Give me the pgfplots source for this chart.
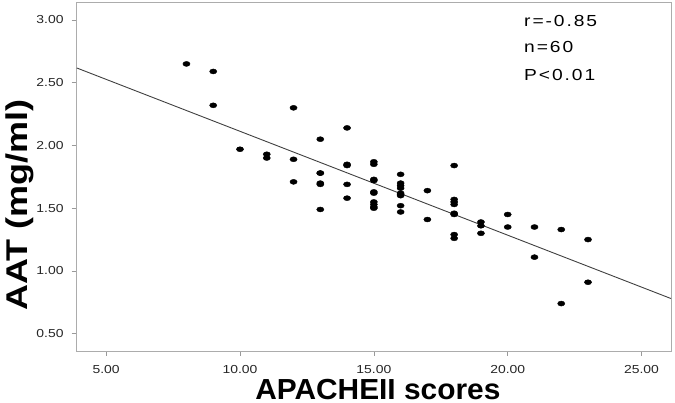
\documentclass[border=0pt]{standalone}
\usepackage{fontspec}
\setmainfont{Liberation Sans}[FakeStretch=1.2]
\newfontfamily\annfont{Liberation Sans}[FakeStretch=1.2, LetterSpace=12]
\newfontfamily\labfont{Liberation Sans}[FakeStretch=1.03]
\usepackage{pgfplots}
\pgfplotsset{compat=1.18}
\begin{document}
\begin{tikzpicture}
\begin{axis}[
  scale only axis,
  width=594.3pt, height=348.3pt,
  xmin=3.9, xmax=26.1, ymin=0.362, ymax=3.138,
  axis line style={draw=gray!65, line width=0.6pt},
  tick style={draw=gray!80, line width=0.6pt},
  tick align=outside,
  major tick length=5pt,
  xtick={5,10,15,20,25},
  ytick={0.5,1,1.5,2,2.5,3},
  xtick pos=bottom, ytick pos=left,
  /pgf/number format/assume math mode=true,
  /pgf/number format/fixed,
  /pgf/number format/fixed zerofill,
  /pgf/number format/precision=2,
  tick label style={font=\fontsize{11.6}{12}\selectfont, text=black!85, inner sep=0pt},
  xticklabel style={anchor=north, yshift=-9pt},
  yticklabel style={anchor=east, xshift=-8pt},
  xlabel={APACHEII scores},
  ylabel={AAT (mg/ml)},
  xlabel style={font=\labfont\fontsize{29}{30}\selectfont\bfseries, at={(axis description cs:0.5,0)}, anchor=base, xshift=4pt, yshift=-48.5pt, inner sep=0pt},
  ylabel style={font=\fontsize{30}{31}\selectfont\bfseries, at={([xshift=-48.7pt]axis description cs:0,0.42)}, anchor=base, inner sep=0pt},
  clip=false,
]
\addplot[only marks, mark=*, mark size=3.6pt, mark options={yscale=0.7, fill=black, draw=black}] coordinates {
(8,2.65)
(9,2.59) (9,2.32)
(10,1.97)
(11,1.93) (11,1.90)
(12,2.30) (12,1.89) (12,1.71)
(13,2.05) (13,1.78) (13,1.78) (13,1.70) (13,1.69) (13,1.49)
(14,2.14) (14,1.85) (14,1.84) (14,1.69) (14,1.58)
(15,1.87) (15,1.85) (15,1.73) (15,1.72) (15,1.63) (15,1.62) (15,1.55) (15,1.53) (15,1.51) (15,1.50)
(16,1.77) (16,1.70) (16,1.68) (16,1.66) (16,1.62) (16,1.61) (16,1.60) (16,1.52) (16,1.47)
(17,1.64) (17,1.41)
(18,1.84) (18,1.57) (18,1.55) (18,1.53) (18,1.46) (18,1.45) (18,1.29) (18,1.26)
(19,1.39) (19,1.36) (19,1.30)
(20,1.45) (20,1.35)
(21,1.35) (21,1.11)
(22,1.33) (22,0.74)
(23,1.25) (23,0.91)
};
\addplot[no markers, draw=black!75, line width=0.9pt] coordinates {(3.9,2.618) (26.1,0.78)};
\node[anchor=west, inner sep=0pt, font=\annfont\fontsize{16}{17}\selectfont] at (axis cs:20.61,2.994) {r=-0.85};
\node[anchor=west, inner sep=0pt, font=\annfont\fontsize{16}{17}\selectfont] at (axis cs:20.61,2.787) {n=60};
\node[anchor=west, inner sep=0pt, font=\annfont\fontsize{16}{17}\selectfont] at (axis cs:20.61,2.562) {P<0.01};
\end{axis}
\pgfresetboundingbox
\path[use as bounding box] ([shift={(-76.7pt,-52pt)}]current axis.south west) rectangle ([shift={(4pt,2.7pt)}]current axis.north east);
\end{tikzpicture}
\end{document}
